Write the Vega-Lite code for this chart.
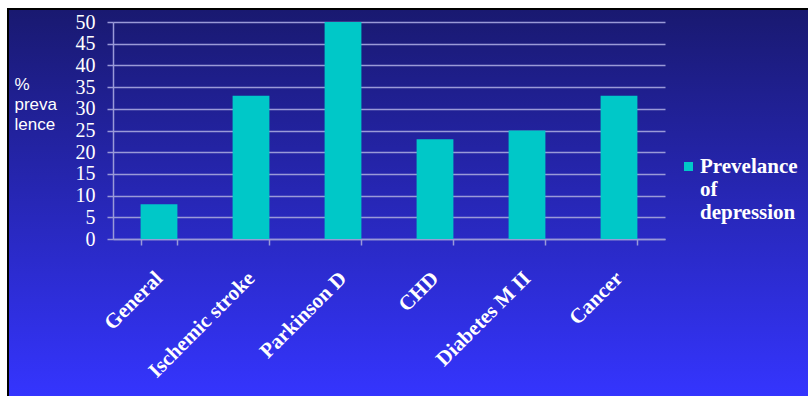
{
  "$schema": "https://vega.github.io/schema/vega-lite/v6.json",
  "width": 803,
  "height": 390,
  "autosize": {"type": "none"},
  "padding": {"left": 8, "top": 9, "right": 0, "bottom": 0},
  "background": "#ffffff",
  "view": {
    "fill": {"gradient": "linear", "x1": 0, "y1": 0, "x2": 0, "y2": 1,
      "stops": [{"offset": 0, "color": "#191970"}, {"offset": 1, "color": "#3535ff"}]},
    "stroke": "#000000",
    "strokeWidth": 2
  },
  "data": {"values": [
    {"group": "General", "value": 8, "series": "Prevelance of depression"},
    {"group": "Ischemic stroke", "value": 33, "series": "Prevelance of depression"},
    {"group": "Parkinson D", "value": 50, "series": "Prevelance of depression"},
    {"group": "CHD", "value": 23, "series": "Prevelance of depression"},
    {"group": "Diabetes M II", "value": 25, "series": "Prevelance of depression"},
    {"group": "Cancer", "value": 33, "series": "Prevelance of depression"}
  ]},
  "mark": {"type": "bar"},
  "encoding": {
    "x": {"field": "group", "type": "nominal", "sort": null,
      "scale": {"range": [105, 657], "paddingInner": 0.6, "paddingOuter": 0.3},
      "axis": {"title": null, "orient": "bottom", "offset": -160, "tickBand": "extent",
        "labelAngle": -45, "labelAlign": "right", "labelBaseline": "middle",
        "labelFont": "Liberation Serif", "labelFontWeight": "bold", "labelFontSize": 21,
        "labelColor": "#ffffff", "labelPadding": 30, "labelLimit": 0,
        "domainColor": "#9a9ad8", "domainWidth": 1.5, "tickColor": "#9a9ad8", "tickWidth": 1.5, "tickSize": 6, "grid": false}},
    "y": {"field": "value", "type": "quantitative",
      "scale": {"domain": [0, 50], "range": [230, 13], "nice": false},
      "axis": {"orient": "left", "offset": -105, "values": [0,5,10,15,20,25,30,35,40,45,50],
        "title": ["%", "preva", "lence"], "titleAngle": 0, "titleAlign": "left", "titleBaseline": "alphabetic",
        "titleX": -99, "titleY": 80, "titleLineHeight": 20, "titleFont": "Liberation Sans", "titleFontSize": 17,
        "titleFontWeight": "normal", "titleColor": "#ffffff",
        "labelFont": "Liberation Serif", "labelFontSize": 20, "labelColor": "#ffffff", "labelPadding": 12,
        "domainColor": "#9a9ad8", "domainWidth": 1.5, "tickColor": "#9a9ad8", "tickWidth": 1.5, "tickSize": 6,
        "grid": true, "gridColor": "#9a9ad8", "gridWidth": 1.5}},
    "fill": {"field": "series", "type": "nominal",
      "scale": {"range": ["#00c8c8"]},
      "legend": {"title": null, "orient": "none", "legendX": 670, "legendY": 147,
        "symbolType": "square", "symbolSize": 81, "symbolStrokeWidth": 0,
        "labelExpr": "['Prevelance', 'of', 'depression']",
        "labelFont": "Liberation Serif", "labelFontWeight": "bold", "labelFontSize": 21,
        "labelColor": "#ffffff", "labelLimit": 0, "labelOffset": 1, "labelLineHeight": 22}}
  }
}
